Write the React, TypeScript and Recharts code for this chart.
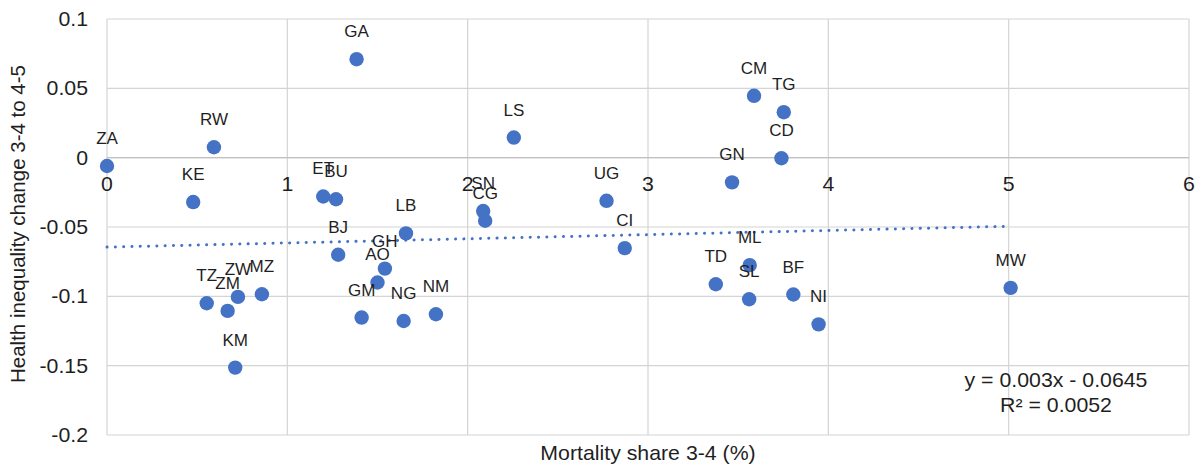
import type { ReactNode } from "react";
import {
  CartesianGrid,
  ReferenceLine,
  Scatter,
  ScatterChart,
  XAxis,
  YAxis,
} from "recharts";

const CODIGOS = [
  "ZA", "RW", "KE", "GA", "ET", "BU", "BJ", "GH", "AO", "LB", "TZ",
  "ZM", "ZW", "MZ", "KM", "GM", "NG", "NM", "LS", "SN", "CG", "UG",
  "CI", "CM", "TG", "CD", "GN", "TD", "ML", "SL", "BF", "NI", "MW",
];

// Mortality share 3-4 (%)
const SHARES = [
  0, 0.593, 0.478, 1.384, 1.199, 1.27, 1.282, 1.541, 1.5, 1.658, 0.553,
  0.669, 0.726, 0.859, 0.711, 1.412, 1.645, 1.824, 2.256, 2.086, 2.097, 2.77,
  2.871, 3.588, 3.753, 3.74, 3.466, 3.376, 3.564, 3.561, 3.806, 3.946, 5.011,
];

// Health inequality change 3-4 to 4-5
const CAMBIOS = [
  -0.006, 0.0075, -0.032, 0.071, -0.028, -0.03, -0.07, -0.08, -0.09, -0.0546, -0.105,
  -0.1105, -0.1004, -0.0985, -0.1514, -0.1153, -0.1178, -0.1129, 0.0145, -0.0385, -0.0455, -0.0311,
  -0.0652, 0.0446, 0.0328, -0.0004, -0.0178, -0.0913, -0.0775, -0.1021, -0.0987, -0.1202, -0.0939,
];

const TICKS_X = [0, 1, 2, 3, 4, 5, 6];
const TICKS_Y = [-0.2, -0.15, -0.1, -0.05, 0, 0.05, 0.1];

// linea de tendencia (lineal), extremos
const TENDENCIA_X = [0, 5];
const TENDENCIA_Y = [-0.0645, -0.0495];
const ECUACION = "y = 0.003x - 0.0645";
const R2 = "R² = 0.0052";

const AZUL = "#4472C4";
const TEXTO = "#1f1f1f";
const FUENTE = "'Liberation Sans', Arial, sans-serif";
// el original tiene el texto un poco ensanchado
const ESTIRAR = 1.065;

const ANCHO = 1204;
const ALTO = 470;
const MARGEN = { top: 19, right: 15, bottom: 0, left: 0 };
const ALTO_EJE_X = 35;
const ANCHO_EJE_Y = 107;

// posicion del eje horizontal en y = 0 (Excel pone las etiquetas ahi)
const Y_MAX = 0.1;
const Y_MIN = -0.2;
const ALTO_PLOT = ALTO - MARGEN.top - MARGEN.bottom - ALTO_EJE_X;
const Y_CERO = MARGEN.top + ((Y_MAX - 0) / (Y_MAX - Y_MIN)) * ALTO_PLOT;

const puntos = CODIGOS.map((codigo, i) => ({
  codigo,
  x: SHARES[i],
  y: CAMBIOS[i],
}));

function Texto({
  x,
  y,
  size = 20,
  anchor = "middle",
  children,
}: {
  x: number;
  y: number;
  size?: number;
  anchor?: "start" | "middle" | "end";
  children: ReactNode;
}) {
  return (
    <text
      transform={`translate(${x} ${y}) scale(${ESTIRAR} 1)`}
      textAnchor={anchor}
      fontSize={size}
      fontFamily={FUENTE}
      fill={TEXTO}
    >
      {children}
    </text>
  );
}

function TickX({ x, payload }: { x?: number; payload?: { value: number } }) {
  return (
    <Texto x={x ?? 0} y={Y_CERO + 33}>
      {payload?.value}
    </Texto>
  );
}

function TickY({ y, payload }: { y?: number; payload?: { value: number } }) {
  return (
    <Texto x={88} y={(y ?? 0) + 7} anchor="end">
      {String(payload?.value)}
    </Texto>
  );
}

function Punto({ cx, cy }: { cx?: number; cy?: number }) {
  return <circle cx={cx} cy={cy} r={7.2} fill={AZUL} />;
}

function Etiqueta({
  cx,
  cy,
  payload,
}: {
  cx?: number;
  cy?: number;
  payload?: { codigo: string };
}) {
  return (
    <Texto x={cx ?? 0} y={(cy ?? 0) - 22} size={16}>
      {payload?.codigo}
    </Texto>
  );
}

export default function App() {
  return (
    <div style={{ position: "absolute", left: 0, top: 0, background: "#fff" }}>
      <ScatterChart width={ANCHO} height={ALTO} margin={MARGEN}>
        <CartesianGrid stroke="#d4d4d4" strokeWidth={1.2} />
        <XAxis
          type="number"
          dataKey="x"
          domain={[0, 6]}
          ticks={TICKS_X}
          height={ALTO_EJE_X}
          axisLine={false}
          tickLine={false}
          tick={<TickX />}
          label={{
            content: () => (
              <Texto x={648} y={460}>
                Mortality share 3-4 (%)
              </Texto>
            ),
          }}
        />
        <YAxis
          type="number"
          dataKey="y"
          domain={[Y_MIN, Y_MAX]}
          ticks={TICKS_Y}
          width={ANCHO_EJE_Y}
          axisLine={false}
          tickLine={false}
          tick={<TickY />}
          label={{
            content: () => (
              <text
                x={25}
                y={224}
                transform="rotate(-90 25 224)"
                textAnchor="middle"
                fontSize={20.5}
                fontFamily={FUENTE}
                fill={TEXTO}
              >
                Health inequality change 3-4 to 4-5
              </text>
            ),
          }}
        />
        <ReferenceLine y={0} stroke="#c0c0c0" strokeWidth={1.3} />
        <ReferenceLine
          segment={[
            { x: TENDENCIA_X[0], y: TENDENCIA_Y[0] },
            { x: TENDENCIA_X[1], y: TENDENCIA_Y[1] },
          ]}
          stroke={AZUL}
          strokeWidth={3}
          strokeDasharray="0.1 8.2"
          strokeLinecap="round"
          label={{
            content: () => (
              <g>
                <Texto x={1056} y={387}>
                  {ECUACION}
                </Texto>
                <Texto x={1056} y={412}>
                  {R2}
                </Texto>
              </g>
            ),
          }}
        />
        <Scatter data={puntos} shape={<Punto />} isAnimationActive={false} />
        <Scatter data={puntos} shape={<Etiqueta />} isAnimationActive={false} />
      </ScatterChart>
    </div>
  );
}
